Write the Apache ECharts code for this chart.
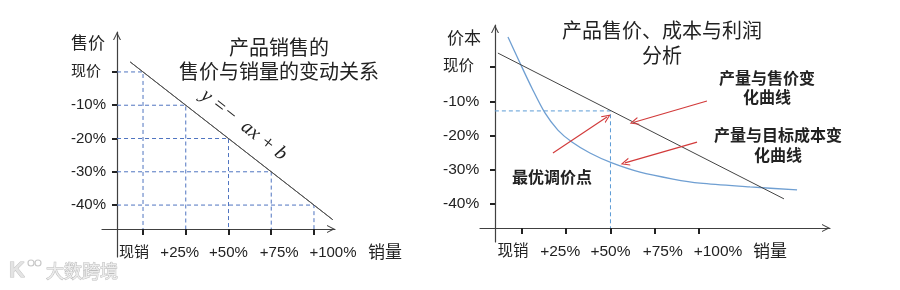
<!DOCTYPE html>
<html>
<head>
<meta charset="utf-8">
<script src="https://cdn.jsdelivr.net/npm/echarts@6/dist/echarts.min.js"></script>
<style>
  html, body { margin: 0; padding: 0; background: #fff; }
  #chart { width: 900px; height: 290px; }
</style>
</head>
<body>
<div id="chart"></div>
<script>
// ticks shared by both panels (values in %)
const xTicks = [0, 25, 50, 75, 100]
const xLabels = ['现销', '+25%', '+50%', '+75%', '+100%']
const yTicks = [0, -10, -20, -30, -40]
const yLabels = ['现价', '-10%', '-20%', '-30%', '-40%']

// left panel: price vs volume  y = -ax + b
const demandLine = [[-7.5, 3], [111, -44.4]]
const demandPoints = [[0, 0], [25, -10], [50, -20], [75, -30], [100, -40]]

// right panel: price line, target cost curve, optimum
const priceLine = [[-13.6, 4.1], [148, -38.5]]
const costCurve = [
  [-7.9, 8.8], [-1.1, 1.2], [5.6, -6.1], [13.0, -13.4], [20.3, -18.4],
  [28.2, -21.9], [38.4, -25.1], [50.8, -28.0], [66.7, -30.7], [85.3, -32.7],
  [100.6, -33.9], [128.8, -35.0], [155.4, -35.9]
]
const optimum = [50, -12.8]
const arrows = [
  [[17.5, -25.1], [48.0, -14.6]],
  [[104.5, -9.9], [63.3, -16.1]],
  [[98.9, -21.9], [58.2, -28.0]]
]

// where the axes cross each other (data units)
const crossL = { x: -15.2, y: -47.2 }
const crossR = { x: -15.3, y: -47.0 }

const FONT = '"Liberation Sans", "Noto Sans CJK SC", sans-serif'
const CJK = '"Noto Sans CJK SC", sans-serif'
const chevron = 'path://M0,10 L5,0 L10,10 L8.6,10 L5,2.8 L1.4,10 Z'
const nudge = [-9, -6, 0, 8, 19] // label shift in px

function richOf(size) {
  const rich = {}
  nudge.forEach((d, i) => {
    rich['n' + i] = {
      fontSize: size, color: '#222', fontFamily: FONT,
      padding: d > 0 ? [0, 0, 0, 2 * d] : [0, -2 * d, 0, 0]
    }
  })
  return rich
}

function xAxisOf(grid, min, max, offset, nameGap, size) {
  return {
    type: 'value', gridIndex: grid, min: min, max: max, offset: offset,
    name: '销量', nameLocation: 'end', nameGap: nameGap,
    nameTextStyle: { fontSize: 17, color: '#222', fontFamily: CJK, align: 'left', verticalAlign: 'top', padding: [14, 0, 0, 0] },
    axisLine: { show: true, onZero: false, symbol: ['none', chevron], symbolSize: [8, 8], symbolOffset: [0, -4], lineStyle: { color: '#404040', width: 1.2 } },
    axisTick: { show: true, customValues: xTicks, length: 6, lineStyle: { color: '#222', width: 2 } },
    axisLabel: {
      show: true, customValues: xTicks, margin: 16, hideOverlap: false,
      formatter: v => { const i = xTicks.indexOf(v); return '{n' + i + '|' + xLabels[i] + '}' },
      rich: richOf(size)
    },
    splitLine: { show: false }
  }
}

function yAxisOf(grid, min, max, name, margin, namePad, nameGap, size) {
  return {
    type: 'value', gridIndex: grid, min: min, max: max, offset: -15,
    name: name, nameLocation: 'end', nameGap: nameGap,
    nameTextStyle: { fontSize: 17, color: '#222', fontFamily: CJK, align: 'right', verticalAlign: 'middle', padding: [0, namePad, 0, 0] },
    axisLine: { show: true, onZero: false, symbol: ['none', chevron], symbolSize: [8, 8], symbolOffset: [0, -4], lineStyle: { color: '#404040', width: 1.2 } },
    axisTick: { show: true, customValues: yTicks, length: 5, lineStyle: { color: '#222', width: 2 } },
    axisLabel: {
      show: true, customValues: yTicks, margin: margin, align: 'left', hideOverlap: false,
      fontSize: size, color: '#222', fontFamily: FONT,
      formatter: v => yLabels[yTicks.indexOf(v)]
    },
    splitLine: { show: false }
  }
}

const guideSeries = demandPoints.map(p => ({
  type: 'line', xAxisIndex: 0, yAxisIndex: 0, symbol: 'none', silent: true, clip: false,
  data: [[crossL.x, p[1]], p, [p[0], crossL.y]],
  lineStyle: { color: '#4f74c0', width: 1, type: [4, 3] }
}))

const chart = echarts.init(document.getElementById('chart'), null, { renderer: 'canvas' })
chart.setOption({
  animation: false,
  backgroundColor: '#fff',
  grid: [
    { left: 102, top: 32, width: 233, height: 225, containLabel: false, outerBoundsMode: 'none' },
    { left: 480, top: 25, width: 350, height: 217, containLabel: false, outerBoundsMode: 'none' }
  ],
  xAxis: [
    xAxisOf(0, -24, 112.3, -28, 33, 15),
    xAxisOf(1, -23.7, 174, -14, -77, 15.5)
  ],
  yAxis: [
    yAxisOf(0, -55.6, 12, '售价', 46, 12, -11, 15),
    yAxisOf(1, -51.1, 12.3, '价本', 52, 14, -13, 15.5)
  ],
  series: guideSeries.concat([
    {
      type: 'line', xAxisIndex: 0, yAxisIndex: 0, symbol: 'none', silent: true, clip: false,
      data: demandLine,
      lineStyle: { color: '#555', width: 1 },
      markLine: {
        silent: true, symbol: 'none',
        lineStyle: { color: '#555', width: 1, type: 'solid' },
        label: {
          show: true, position: 'middle', distance: 10,
          formatter: 'y =−  ax + b',
          fontFamily: '"Liberation Serif", serif', fontStyle: 'italic', fontSize: 20, color: '#222'
        },
        data: [[{ coord: demandLine[0] }, { coord: demandLine[1] }]]
      }
    },
    {
      type: 'line', xAxisIndex: 1, yAxisIndex: 1, symbol: 'none', silent: true, clip: false,
      data: [[crossR.x, optimum[1]], optimum, [optimum[0], crossR.y]],
      lineStyle: { color: '#5b9bd5', width: 1, type: [4, 3] }
    },
    {
      type: 'line', xAxisIndex: 1, yAxisIndex: 1, symbol: 'none', silent: true, clip: false,
      data: costCurve, smooth: 0.3,
      lineStyle: { color: '#6f9fd2', width: 1.3 }
    },
    {
      type: 'line', xAxisIndex: 1, yAxisIndex: 1, symbol: 'none', silent: true, clip: false,
      data: priceLine,
      lineStyle: { color: '#444', width: 1 },
      markLine: {
        silent: true, symbol: ['none', chevron], symbolSize: [8, 9],
        lineStyle: { color: '#d23a3a', width: 1.2, type: 'solid' },
        label: { show: false },
        data: arrows.map(a => [{ coord: a[0] }, { coord: a[1] }])
      }
    }
  ]),
  graphic: [
    {
      type: 'text', x: 279, y: 35, silent: true,
      style: { text: '产品销售的\n售价与销量的变动关系', align: 'center', verticalAlign: 'top', lineHeight: 24, fontSize: 20, fontFamily: CJK, fill: '#222' }
    },
    {
      type: 'text', x: 662, y: 18, silent: true,
      style: { text: '产品售价、成本与利润\n分析', align: 'center', verticalAlign: 'top', lineHeight: 25, fontSize: 20, fontFamily: CJK, fill: '#222' }
    },
    {
      type: 'text', x: 767, y: 68, silent: true,
      style: { text: '产量与售价变\n化曲线', align: 'center', verticalAlign: 'top', lineHeight: 19, fontSize: 16, fontWeight: 'bold', fontFamily: CJK, fill: '#222' }
    },
    {
      type: 'text', x: 778, y: 125, silent: true,
      style: { text: '产量与目标成本变\n化曲线', align: 'center', verticalAlign: 'top', lineHeight: 20, fontSize: 16, fontWeight: 'bold', fontFamily: CJK, fill: '#222' }
    },
    {
      type: 'text', x: 512, y: 177, silent: true,
      style: { text: '最优调价点', align: 'left', verticalAlign: 'middle', fontSize: 16, fontWeight: 'bold', fontFamily: CJK, fill: '#222' }
    },
    // watermark
    {
      type: 'text', x: 9, y: 271, silent: true,
      style: { text: 'K', align: 'left', verticalAlign: 'middle', fontSize: 22, fontWeight: 'bold', fontFamily: FONT, fill: '#e4e4e4', stroke: '#c2c2c2', lineWidth: 1 }
    },
    { type: 'circle', silent: true, shape: { cx: 31, cy: 263, r: 3 }, style: { fill: 'none', stroke: '#c8c8c8', lineWidth: 1.2 } },
    { type: 'circle', silent: true, shape: { cx: 38, cy: 263, r: 3 }, style: { fill: 'none', stroke: '#c8c8c8', lineWidth: 1.2 } },
    {
      type: 'text', x: 46, y: 271, silent: true,
      style: { text: '大数跨境', align: 'left', verticalAlign: 'middle', fontSize: 18, fontFamily: CJK, fill: '#ececec', stroke: '#bdbdbd', lineWidth: 1 }
    }
  ]
})
</script>
</body>
</html>
